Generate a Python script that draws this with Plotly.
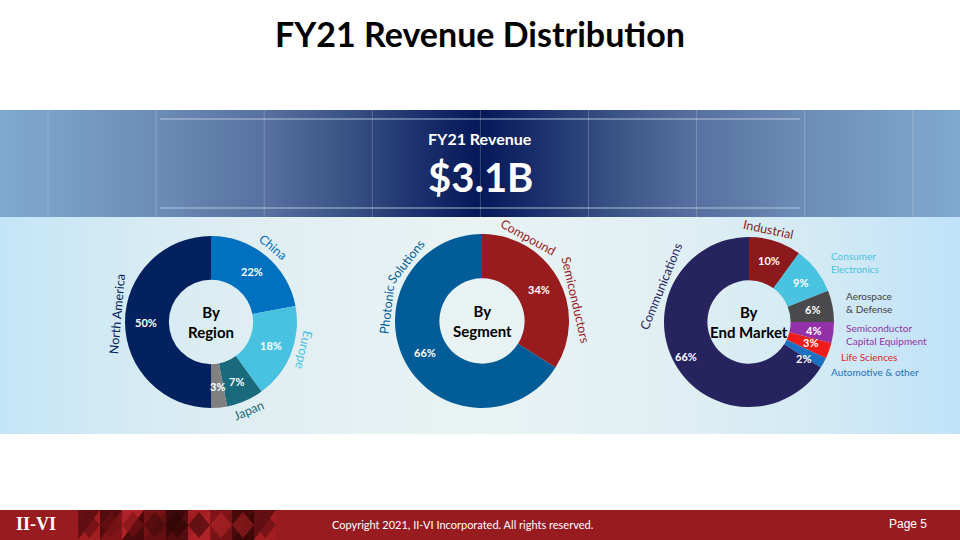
import math
import plotly.graph_objects as go

W, H = 960, 540
FONT = "Lato"

# ---------------- data ----------------
title_text = "FY21 Revenue Distribution"
revenue_label = "FY21 Revenue"
revenue_value = "$3.1B"

region_labels = ["China", "Europe", "Japan", "Other", "North America"]
region_values = [22, 18, 7, 3, 50]
region_colors = ["#0070c0", "#48c2e0", "#186a7c", "#808080", "#03215e"]

segment_labels = ["Compound Semiconductors", "Photonic Solutions"]
segment_values = [34, 66]
segment_colors = ["#981b1e", "#025c98"]

market_labels = ["Industrial", "Consumer Electronics", "Aerospace & Defense",
                 "Semiconductor Capital Equipment", "Life Sciences",
                 "Automotive & other", "Communications"]
market_values = [10, 9, 6, 4, 3, 2, 66]
market_colors = ["#8c1a1d", "#49c3e0", "#4a4a4c", "#9331a8", "#f01b1b", "#1c70c2", "#27235f"]

market_side_text = ["Consumer<br>Electronics", "Aerospace<br>& Defense",
                    "Semiconductor<br>Capital Equipment", "Life Sciences", "Automotive & other"]
market_side_colors = ["#49c3e0", "#404040", "#9331a8", "#e31b1b", "#1c70c2"]

footer_text = "Copyright 2021, II-VI Incorporated. All rights reserved."
page_text = "Page 5"
logo_text = "II-VI"

# ---------------- layout helpers ----------------
charts = [
    dict(labels=region_labels, values=region_values, colors=region_colors,
         cx=211, cy=322, r=86, center="By<br>Region"),
    dict(labels=segment_labels, values=segment_values, colors=segment_colors,
         cx=482, cy=321, r=87, center="By<br>Segment"),
    dict(labels=market_labels, values=market_values, colors=market_colors,
         cx=749, cy=322, r=85, center="By<br>End Market"),
]

fig = go.Figure()
shapes = []
annotations = []

# band gradient (dark navy centre)
fig.add_trace(go.Scatter(
    x=[0, W, W, 0, 0], y=[110, 110, 217, 217, 110], mode="lines", fill="toself",
    line=dict(width=0), hoverinfo="skip", showlegend=False,
    fillgradient=dict(type="horizontal", colorscale=[
        [0.0, "#7fa9cf"], [0.05, "#7aa1c7"], [0.16, "#6d8db6"], [0.28, "#566f9f"],
        [0.36, "#3a5385"], [0.44, "#1a2f6c"], [0.5, "#051858"], [0.56, "#1a2f6c"],
        [0.64, "#3a5385"], [0.72, "#566f9f"], [0.84, "#6d8db6"], [0.95, "#7aa1c7"],
        [1.0, "#7fa9cf"]])))

# lower light panel
fig.add_trace(go.Scatter(
    x=[0, W, W, 0, 0], y=[217, 217, 434, 434, 217], mode="lines", fill="toself",
    line=dict(width=0), hoverinfo="skip", showlegend=False,
    fillgradient=dict(type="horizontal", colorscale=[
        [0.0, "#c4e5f8"], [0.15, "#d6ebf3"], [0.3, "#e2eff2"], [0.5, "#e9f3f4"],
        [0.7, "#e0eff3"], [0.85, "#d3eaf4"], [1.0, "#c0e2f9"]])))

# faint grid lines
for k in range(9):
    gx = 48 + 108.1 * k
    shapes.append(dict(type="line", xref="x", yref="y", x0=gx, x1=gx, y0=110, y1=217,
                       line=dict(color="rgba(255,255,255,0.22)", width=1), layer="above"))
    shapes.append(dict(type="line", xref="x", yref="y", x0=gx, x1=gx, y0=217, y1=434,
                       line=dict(color="rgba(255,255,255,0.75)", width=1), layer="below"))
shapes.append(dict(type="line", xref="x", yref="y", x0=0, x1=W, y0=323, y1=323,
                   line=dict(color="rgba(255,255,255,0.7)", width=1), layer="below"))
for ly in (119, 208):
    shapes.append(dict(type="line", xref="x", yref="y", x0=160, x1=800, y0=ly, y1=ly,
                       line=dict(color="rgba(200,215,235,0.55)", width=1.5), layer="above"))

# footer bar
shapes.append(dict(type="rect", xref="x", yref="y", x0=0, x1=W, y0=510, y1=541,
                   fillcolor="#981b1f", line=dict(width=0), layer="above"))
tri_cols = ["#5c0d10", "#3a0708", "#7c1317", "#a51f23", "#2c0505", "#6e1014", "#b3252a", "#460a0c"]
cw = 22
idx = 0
for c in range(9):
    x0 = 78 + c * cw
    for half in range(2):
        col = tri_cols[(idx * 3 + c) % len(tri_cols)]
        idx += 1
        if half == 0:
            path = f"M{x0},510 L{x0+cw},510 L{x0},540 Z"
        else:
            path = f"M{x0+cw},510 L{x0+cw},540 L{x0},540 Z"
        shapes.append(dict(type="path", xref="x", yref="y", path=path,
                           fillcolor=col, line=dict(width=0), layer="above", opacity=0.85))
    shapes.append(dict(type="path", xref="x", yref="y",
                       path=f"M{x0+cw/2},512 L{x0+cw},525 L{x0+cw/2},538 L{x0},525 Z",
                       fillcolor=tri_cols[(c * 5) % len(tri_cols)], line=dict(width=0),
                       layer="above", opacity=0.6))

# donuts
for ch in charts:
    cx, cy, r = ch["cx"], ch["cy"], ch["r"]
    fig.add_trace(go.Pie(
        labels=ch["labels"], values=ch["values"], marker=dict(colors=ch["colors"], line=dict(width=0)),
        hole=0.49, sort=False, direction="clockwise", rotation=0, textinfo="none",
        hoverinfo="label+percent", showlegend=False,
        domain=dict(x=[(cx - r) / W, (cx + r) / W], y=[1 - (cy + r) / H, 1 - (cy - r) / H])))
    cum = 0
    for lab, v in zip(ch["labels"], ch["values"]):
        ang = math.radians((cum + v / 2) / 100 * 360)
        if lab == "Automotive & other":
            ang += math.radians(5)
        if lab == "Life Sciences":
            ang -= math.radians(1)
        rr = 65
        if lab == "Communications":
            rr = 72
        annotations.append(dict(x=cx + rr * math.sin(ang), y=cy - rr * math.cos(ang),
                                xref="x", yref="y", text=f"<b>{v}%</b>", showarrow=False,
                                font=dict(family=FONT, size=11, color="white")))
        cum += v
    annotations.append(dict(x=cx, y=cy, xref="x", yref="y", text=f"<b>{ch['center']}</b>",
                            showarrow=False, font=dict(family=FONT, size=15, color="black")))

# arc-style outer labels: (text, chart, phi, R, textangle, color)
arc_labels = [
    ("China", 0, 40, 97, 40, "#0070c0"),
    ("Europe", 0, 107, 97, 103, "#48c2e0"),
    ("Japan", 0, 157, 96, -23, "#186a7c"),
    ("North America", 0, -85, 94, -85, "#03215e"),
    ("Photonic", 1, -83, 96, -83, "#025c98"),
    ("Solutions", 1, -52, 96, -52, "#025c98"),
    ("Compound", 1, 29, 96, 29, "#981b1e"),
    ("Semiconductors", 1, 77, 96, 77, "#981b1e"),
    ("Industrial", 2, 12, 95, 12, "#8c1a1d"),
    ("Communications", 2, -68, 95, -68, "#27235f"),
]
for txt, ci, phi, R, ta, col in arc_labels:
    ch = charts[ci]
    a = math.radians(phi)
    annotations.append(dict(x=ch["cx"] + R * math.sin(a), y=ch["cy"] - R * math.cos(a),
                            xref="x", yref="y", text=txt, textangle=ta, showarrow=False,
                            xanchor="center", yanchor="middle",
                            font=dict(family=FONT, size=12.5, color=col)))

# right side market legend labels
side_pos = [(829, 262), (844, 302), (844, 334), (839, 357), (829, 372)]
for (sx, sy), txt, col in zip(side_pos, market_side_text, market_side_colors):
    annotations.append(dict(x=sx, y=sy, xref="x", yref="y", text=txt, showarrow=False,
                            xanchor="left", yanchor="middle", align="left",
                            font=dict(family=FONT, size=10, color=col)))

# titles
annotations += [
    dict(x=480, y=33, xref="x", yref="y", text=f"<b>{title_text}</b>", showarrow=False,
         font=dict(family=FONT, size=34, color="black")),
    dict(x=480, y=138, xref="x", yref="y", text=f"<b>{revenue_label}</b>", showarrow=False,
         font=dict(family=FONT, size=16, color="white")),
    dict(x=480, y=177, xref="x", yref="y", text=f"<b>{revenue_value}</b>", showarrow=False,
         font=dict(family=FONT, size=40, color="white")),
    dict(x=462, y=524, xref="x", yref="y", text=footer_text, showarrow=False,
         font=dict(family=FONT, size=11, color="white")),
    dict(x=908, y=524, xref="x", yref="y", text=page_text, showarrow=False,
         font=dict(family="Liberation Sans", size=12, color="white")),
    dict(x=36, y=524, xref="x", yref="y", text=f"<b>{logo_text}</b>", showarrow=False,
         font=dict(family="Liberation Serif", size=18, color="white")),
]

fig.update_layout(
    width=W, height=H, margin=dict(l=0, r=0, t=0, b=0),
    paper_bgcolor="white", plot_bgcolor="white",
    xaxis=dict(range=[0, W], visible=False, fixedrange=True, domain=[0, 1]),
    yaxis=dict(range=[H, 0], visible=False, fixedrange=True, domain=[0, 1]),
    shapes=shapes, annotations=annotations, showlegend=False,
)

fig.write_html("out.html", config={"displayModeBar": False},
               post_script="document.body.style.margin='0';document.body.style.overflow='hidden';")
